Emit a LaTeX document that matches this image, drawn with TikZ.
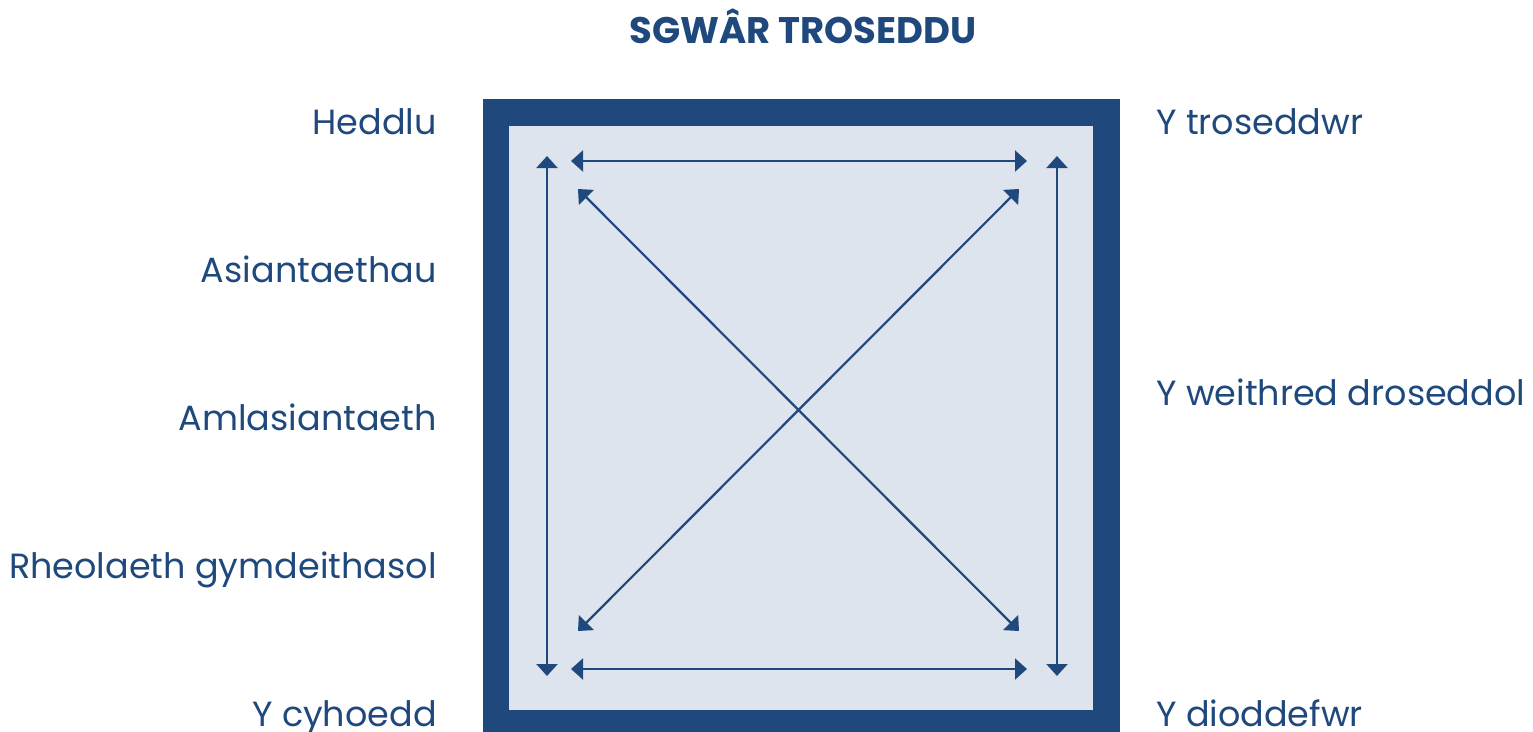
\documentclass[tikz,border=0pt]{standalone}
\usepackage{fontspec}
\setmainfont{Poppins}
\usetikzlibrary{arrows.meta}
\definecolor{navy}{RGB}{31,73,125}
\definecolor{pale}{RGB}{222,228,238}
\tikzset{
  lbl/.style={inner sep=0pt, text=navy, font=\fontsize{35}{38}\selectfont},
  lbll/.style={lbl, anchor=base east},
  lblr/.style={lbl, anchor=base west},
  ttl/.style={inner sep=0pt, text=navy, anchor=base, font=\fontsize{37}{40}\selectfont\bfseries},
  dbl/.style={navy, line width=2.2pt, {Triangle[length=12pt,width=21pt]}-{Triangle[length=12pt,width=21pt]}},
}
\begin{document}
\begin{tikzpicture}[x=1pt,y=-1pt]
\useasboundingbox (0,0) rectangle (1533,731);
\clip (0,0) rectangle (1533,731);
\fill[navy] (483,99) rectangle (1120,760);
\fill[pale] (509,126) rectangle (1093,710);
\node[ttl] (title) at (803,43) {SGWÂR TROSEDDU};
\node[lbll] (heddlu) at (437,134) {Heddlu};
\node[lbll] (asiant) at (437,282) {Asiantaethau};
\node[lbll] (amlas) at (437,430) {Amlasiantaeth};
\node[lbll] (rheol) at (437,578) {Rheolaeth gymdeithasol};
\node[lbll] (cyhoedd) at (437,726) {Y cyhoedd};
\node[lblr] (trosed) at (1156,134) {Y troseddwr};
\node[lblr] (weith) at (1156,405) {Y weithred droseddol};
\node[lblr] (diodd) at (1156,726) {Y dioddefwr};
\coordinate (tl) at (571,161);
\coordinate (tr) at (1027,161);
\coordinate (bl) at (571,669);
\coordinate (br) at (1027,669);
\coordinate (lt) at (547,156);
\coordinate (lb) at (547,676);
\coordinate (rt) at (1057,156);
\coordinate (rb) at (1057,676);
\coordinate (d1a) at (578,189);
\coordinate (d1b) at (1019,631);
\coordinate (d2a) at (1019,189);
\coordinate (d2b) at (578,631);
\draw[dbl] (tl) -- (tr);
\draw[dbl] (bl) -- (br);
\draw[dbl] (lt) -- (lb);
\draw[dbl] (rt) -- (rb);
\draw[dbl] (d1a) -- (d1b);
\draw[dbl] (d2a) -- (d2b);
\end{tikzpicture}
\end{document}
